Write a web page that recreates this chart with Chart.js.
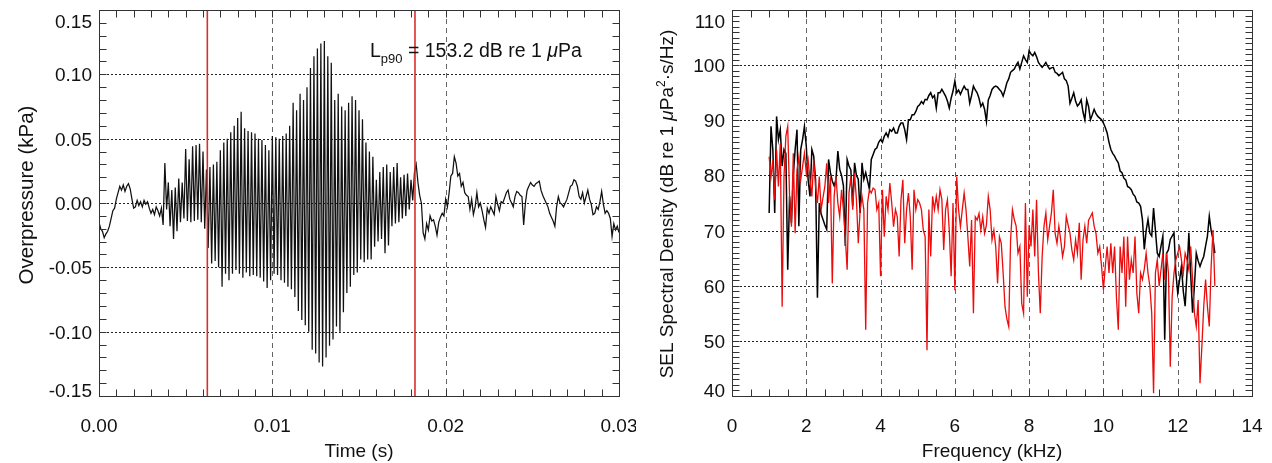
<!DOCTYPE html>
<html>
<head>
<meta charset="utf-8">
<title>Overpressure and SEL spectral density</title>
<script src="https://cdn.jsdelivr.net/npm/chart.js@4.4.0/dist/chart.umd.min.js"></script>
<style>
  html, body { margin: 0; padding: 0; background: #fff; }
  #wrap { position: relative; width: 1272px; height: 463px; }
  .panel { position: absolute; top: 0; width: 636px; height: 463px; }
  #left { left: 0; }
  #right { left: 636px; }
</style>
</head>
<body>
<div id="wrap">
  <div class="panel" id="left"><canvas id="chart-wave" width="636" height="463"></canvas></div>
  <div class="panel" id="right"><canvas id="chart-sel" width="636" height="463"></canvas></div>
</div>
<script>
/* global Chart */
(function() {
  "use strict";

  // ---- Left panel: overpressure (kPa), one sample every 0.1 ms, 0 .. 30 ms (one row = 1 ms)
  const SAMPLE_STEP_S = 0.0001;
  const overpressureKPa = [
    -0.015, -0.020, -0.022, -0.027, -0.024, -0.022, -0.018, -0.012, -0.006, -0.004,
    0.003, 0.008, 0.013, 0.010, 0.014, 0.009, 0.013, 0.015, 0.011, 0.003,
    -0.004, -0.003, 0.002, -0.002, 0.001, -0.003, 0.002, -0.001, 0.001, -0.004,
    -0.008, -0.005, -0.009, -0.003, -0.006, -0.010, -0.004, -0.017, 0.031, -0.005,
    0.016, -0.018, 0.010, -0.028, 0.012, -0.022, 0.019, -0.015, 0.016, -0.012,
    0.042, -0.014, 0.034, -0.015, 0.044, -0.014, 0.045, -0.013, 0.046, -0.015,
    0.040, -0.020, 0.026, -0.035, 0.028, -0.047, 0.030, -0.045, 0.032, -0.050,
    0.041, -0.065, 0.047, -0.055, 0.050, -0.060, 0.055, -0.055, 0.060, -0.052,
    0.066, -0.055, 0.071, -0.058, 0.058, -0.054, 0.056, -0.057, 0.055, -0.056,
    0.054, -0.057, 0.050, -0.058, 0.049, -0.061, 0.045, -0.066, 0.041, -0.060,
    0.052, -0.055, 0.051, -0.056, 0.050, -0.060, 0.052, -0.062, 0.054, -0.065,
    0.060, -0.067, 0.078, -0.073, 0.072, -0.084, 0.085, -0.091, 0.080, -0.095,
    0.090, -0.100, 0.105, -0.114, 0.114, -0.117, 0.120, -0.124, 0.124, -0.127,
    0.126, -0.120, 0.114, -0.111, 0.109, -0.106, 0.080, -0.096, 0.085, -0.100,
    0.075, -0.085, 0.072, -0.070, 0.078, -0.065, 0.083, -0.056, 0.080, -0.054,
    0.072, -0.044, 0.065, -0.046, 0.047, -0.044, 0.040, -0.044, 0.036, -0.034,
    0.018, -0.030, 0.024, -0.028, 0.028, -0.039, 0.030, -0.033, 0.024, -0.018,
    0.028, -0.016, 0.031, -0.015, 0.020, -0.012, 0.022, -0.010, 0.023, -0.005,
    0.018, 0.002, 0.024, 0.030, 0.016, 0.006, 0.000, -0.023, -0.028, -0.016,
    -0.021, -0.010, -0.014, -0.013, -0.018, -0.025, -0.015, -0.011, -0.008, -0.010,
    0.003, -0.003, 0.008, 0.021, 0.023, 0.036, 0.031, 0.021, 0.023, 0.013,
    0.016, 0.008, 0.006, 0.005, -0.005, 0.003, -0.009, -0.003, 0.008, -0.003,
    0.000, -0.006, -0.013, -0.019, -0.004, -0.008, -0.003, -0.006, -0.009, 0.005,
    -0.001, -0.006, 0.001, 0.000, 0.004, 0.008, 0.010, 0.003, 0.000, -0.003,
    0.005, 0.009, 0.008, 0.006, 0.005, -0.017, 0.000, 0.010, 0.013, 0.016,
    0.014, 0.013, 0.015, 0.016, 0.017, 0.010, 0.006, 0.003, 0.000, -0.003,
    -0.008, -0.011, -0.014, -0.018, -0.003, 0.005, 0.000, -0.001, -0.003, 0.000,
    0.003, 0.008, 0.013, 0.014, 0.018, 0.017, 0.013, 0.005, 0.003, 0.008,
    0.000, 0.005, 0.010, 0.003, -0.001, -0.009, -0.008, -0.003, -0.005, 0.001,
    0.009, -0.001, -0.008, -0.006, -0.008, -0.012, -0.026, -0.016, -0.021, -0.018,
    -0.023,
  ];
  // start and end of the 90 % energy window (s)
  const windowEdgesS = [0.00625, 0.01823];
  const timeTicks = [0, 0.01, 0.02, 0.03];
  const timeTickLabels = ["0.00", "0.01", "0.02", "0.03"];
  const pressureTicks = [-0.15, -0.10, -0.05, 0, 0.05, 0.10, 0.15];
  const pressureTickLabels = ["-0.15", "-0.10", "-0.05", "0.00", "0.05", "0.10", "0.15"];

  // ---- Right panel: SEL spectral density (dB), 1 .. 13 kHz every 0.05 kHz (one row = 1 kHz)
  const FREQ_START_KHZ = 1.0;
  const FREQ_STEP_KHZ = 0.05;
  const selSignal = [
    73.2, 88.9, 84.6, 73.2, 90.7, 86.5, 88.3, 81.7, 84.7, 84.0, 62.9, 76.2, 71.4, 80.0, 84.7, 88.3, 70.8, 84.7, 86.5, 88.9,
    85.3, 79.2, 76.2, 84.7, 83.5, 79.2, 57.8, 75.0, 73.0, 72.0, 71.0, 70.2, 82.9, 80.5, 79.0, 78.1, 79.3, 84.4, 81.1, 80.0,
    78.1, 67.2, 82.9, 81.7, 81.0, 74.4, 82.3, 80.0, 79.3, 73.2, 82.3, 79.3, 80.5, 79.0, 77.5, 82.9, 83.8, 84.7, 85.0, 86.0,
    86.5, 86.0, 87.1, 87.7, 87.0, 88.3, 88.0, 88.6, 87.7, 87.7, 88.9, 89.5, 89.5, 88.3, 86.5, 90.1, 90.1, 91.0, 91.0, 91.6,
    92.5, 92.8, 93.4, 93.0, 93.8, 93.7, 94.5, 95.0, 94.1, 94.5, 92.2, 95.0, 95.0, 95.6, 95.0, 94.4, 93.5, 92.2, 94.0, 95.3,
    97.1, 95.0, 95.5, 94.7, 95.5, 96.2, 95.6, 95.6, 93.1, 94.5, 96.2, 95.5, 95.0, 94.0, 92.5, 93.1, 92.0, 89.8, 93.7, 94.5,
    95.6, 96.0, 96.2, 96.0, 95.6, 95.2, 94.4, 95.5, 96.8, 97.5, 98.7, 99.0, 99.3, 100.0, 100.5, 99.3, 100.5, 101.7, 101.0, 100.5,
    102.6, 102.0, 101.7, 102.3, 101.5, 100.5, 100.0, 99.6, 100.0, 100.5, 99.8, 99.3, 99.5, 99.6, 98.7, 98.5, 98.1, 98.4, 98.7, 97.5,
    97.2, 96.2, 93.1, 94.0, 95.0, 93.5, 92.6, 93.0, 93.7, 91.5, 90.1, 93.7, 92.5, 90.1, 91.0, 92.0, 91.2, 90.7, 90.4, 90.1,
    89.5, 88.7, 87.7, 86.0, 84.7, 84.0, 83.5, 82.8, 82.3, 80.8, 80.5, 79.5, 79.2, 78.0, 77.8, 77.4, 76.6, 76.2, 75.2, 75.0,
    74.4, 72.0, 66.6, 70.0, 72.0, 69.5, 69.0, 74.1, 70.0, 65.9, 65.3, 67.2, 69.0, 50.2, 65.9, 66.5, 68.4, 69.0, 69.6, 62.3,
    58.7, 61.0, 63.5, 59.0, 56.3, 62.3, 69.6, 62.0, 55.1, 60.0, 65.9, 64.5, 63.5, 64.5, 65.3, 67.2, 69.0, 72.6, 70.0, 68.4,
    65.9,
  ];
  const selNoise = [
    83.4, 79.8, 82.8, 75.6, 84.6, 78.0, 85.8, 56.2, 79.8, 87.1, 88.9, 76.2, 70.7, 84.0, 69.5, 81.0, 83.4, 79.2, 81.6, 84.0,
    80.4, 82.8, 79.2, 76.2, 82.8, 78.0, 75.0, 79.8, 73.8, 76.0, 78.0, 82.2, 75.0, 79.8, 60.4, 76.2, 79.8, 75.0, 72.5, 77.4,
    73.8, 68.9, 62.9, 76.8, 79.8, 73.8, 80.4, 75.6, 67.7, 73.8, 76.2, 73.8, 52.0, 75.0, 77.4, 76.8, 77.7, 77.4, 73.8, 75.0,
    61.7, 77.4, 68.9, 76.2, 73.8, 78.6, 75.0, 70.7, 73.8, 72.5, 65.3, 75.6, 79.2, 67.7, 73.8, 76.8, 72.5, 62.9, 77.4, 73.8,
    75.6, 75.0, 73.8, 70.1, 68.9, 48.3, 73.8, 65.3, 76.2, 73.8, 76.2, 73.8, 77.4, 75.6, 66.5, 73.8, 75.6, 70.0, 61.7, 75.0,
    59.2, 79.8, 73.8, 70.7, 73.8, 76.8, 73.8, 68.9, 63.5, 71.9, 55.0, 72.5, 71.9, 73.1, 70.1, 72.5, 69.5, 71.0, 76.2, 73.8,
    68.3, 70.1, 67.1, 60.4, 68.9, 67.7, 62.3, 56.2, 54.0, 52.6, 68.3, 73.8, 72.0, 70.8, 65.9, 67.1, 56.8, 55.0, 75.0, 58.0,
    71.0, 67.1, 73.8, 65.3, 75.6, 62.3, 55.0, 65.3, 70.8, 73.2, 68.3, 70.8, 73.2, 77.4, 69.5, 67.7, 70.8, 68.3, 65.3, 67.1,
    72.6, 71.0, 69.5, 66.5, 64.7, 68.3, 65.9, 71.4, 61.1, 68.3, 70.8, 67.7, 71.9, 72.5, 73.2, 70.8, 69.5, 65.9, 67.1, 63.5,
    59.3, 63.5, 67.1, 62.3, 67.7, 62.3, 67.1, 58.0, 52.0, 67.1, 62.3, 68.9, 56.2, 68.9, 61.1, 64.7, 62.3, 68.9, 58.6, 55.0,
    62.3, 61.1, 63.0, 65.9, 62.3, 59.9, 55.0, 40.5, 62.3, 64.7, 59.9, 62.9, 65.9, 61.1, 65.9, 62.3, 45.3, 58.0, 62.3, 64.7,
    65.9, 67.1, 64.7, 62.3, 65.9, 64.7, 62.9, 67.1, 61.1, 55.0, 52.6, 57.4, 42.3, 49.0, 56.2, 61.1, 56.2, 52.6, 63.5, 70.1,
    59.9,
  ];
  const freqTicks = [0, 2, 4, 6, 8, 10, 12, 14];
  const freqTickLabels = ["0", "2", "4", "6", "8", "10", "12", "14"];
  const selTicks = [40, 50, 60, 70, 80, 90, 100, 110];
  const selTickLabels = ["40", "50", "60", "70", "80", "90", "100", "110"];

  const FONT = "'Liberation Sans', Arial, Helvetica, sans-serif";
  const BASE = 19;
  const font = (size, italic) => `${italic ? "italic " : ""}${size}px ${FONT}`;
  const snap = (v) => Math.round(v) + 0.5;

  /**
   * Width of a list of text runs ({text, size, italic, dy}).
   * @return {number}
   */
  function runsWidth(ctx, runs) {
    return runs.reduce((w, r) => {
      ctx.font = font(r.size || BASE, r.italic);
      return w + ctx.measureText(r.text).width;
    }, 0);
  }

  function drawRuns(ctx, runs, x, y) {
    let cx = x;
    runs.forEach((r) => {
      ctx.font = font(r.size || BASE, r.italic);
      ctx.fillText(r.text, cx, y + (r.dy || 0));
      cx += ctx.measureText(r.text).width;
    });
  }

  // IDL-like frame: dashed grid, inward ticks on all sides, clamped labels
  const idlAxes = {
    id: "idlAxes",
    beforeDatasetsDraw(chart, args, o) {
      const {ctx, chartArea: a, scales: {x, y}} = chart;
      ctx.save();
      ctx.lineWidth = 1;
      ctx.strokeStyle = "#666";
      ctx.setLineDash([5, 4]);
      ctx.beginPath();
      o.xTicks.slice(1, -1).forEach((v) => {
        const px = snap(x.getPixelForValue(v));
        ctx.moveTo(px, a.top);
        ctx.lineTo(px, a.bottom);
      });
      ctx.stroke();
      ctx.strokeStyle = "#222";
      ctx.setLineDash([2, 2]);
      ctx.beginPath();
      o.yTicks.slice(1, -1).forEach((v) => {
        const py = snap(y.getPixelForValue(v));
        ctx.moveTo(a.left, py);
        ctx.lineTo(a.right, py);
      });
      ctx.stroke();
      ctx.restore();
    },
    afterDatasetsDraw(chart, args, o) {
      const {ctx, chartArea: a, scales: {x, y}} = chart;
      ctx.save();
      ctx.setLineDash([]);
      ctx.lineWidth = 1;
      ctx.strokeStyle = "#333";
      const L = Math.round(a.left) + 0.5;
      const R = Math.round(a.right) + 0.5;
      const T = Math.round(a.top) + 0.5;
      const B = Math.round(a.bottom) + 0.5;
      ctx.strokeRect(L, T, R - L, B - T);

      const tl = o.tickLen;
      ctx.beginPath();
      const nx = Math.round((x.max - x.min) / o.xMinor);
      for (let i = 0; i <= nx; i++) {
        const px = snap(x.getPixelForValue(x.min + i * o.xMinor));
        ctx.moveTo(px, B);
        ctx.lineTo(px, B - tl);
        ctx.moveTo(px, T);
        ctx.lineTo(px, T + tl);
      }
      const ny = Math.round((y.max - y.min) / o.yMinor);
      for (let i = 0; i <= ny; i++) {
        const py = snap(y.getPixelForValue(y.min + i * o.yMinor));
        ctx.moveTo(L, py);
        ctx.lineTo(L + tl, py);
        ctx.moveTo(R, py);
        ctx.lineTo(R - tl, py);
      }
      ctx.stroke();

      ctx.fillStyle = "#111";
      ctx.font = font(BASE);
      ctx.textBaseline = "alphabetic";
      ctx.textAlign = "center";
      o.xTicks.forEach((v, i) => {
        ctx.fillText(o.xLabels[i], x.getPixelForValue(v), a.bottom + 36);
      });
      ctx.textAlign = "right";
      o.yTicks.forEach((v, i) => {
        const base = Math.min(Math.max(y.getPixelForValue(v) + 7, a.top + 17.5), a.bottom + 1);
        ctx.fillText(o.yLabels[i], a.left - 7, base);
      });

      ctx.textAlign = "left";
      const xw = runsWidth(ctx, o.xTitle);
      drawRuns(ctx, o.xTitle, (a.left + a.right) / 2 - xw / 2, a.bottom + 61);

      const yw = runsWidth(ctx, o.yTitle);
      ctx.save();
      ctx.translate(o.yTitleX, o.yTitleY);
      ctx.rotate(-Math.PI / 2);
      drawRuns(ctx, o.yTitle, -yw / 2, 0);
      ctx.restore();

      (o.notes || []).forEach((n) => drawRuns(ctx, n.runs, n.x, n.y));
      ctx.restore();
    },
  };

  /**
   * Shared option block for both panels.
   * @return {Object}
   */
  function panelOptions(xTicks, yTicks, yAxisWidth, rightPad, axes) {
    return {
      responsive: false,
      animation: false,
      devicePixelRatio: 1,
      layout: {padding: {top: 10, right: rightPad, left: 0, bottom: 0}},
      elements: {point: {radius: 0}, line: {tension: 0}},
      scales: {
        x: {
          type: "linear",
          min: xTicks[0],
          max: xTicks[xTicks.length - 1],
          grid: {display: false},
          border: {display: false},
          ticks: {display: false},
          afterFit: (s) => {
            s.height = 67;
          },
        },
        y: {
          type: "linear",
          min: yTicks[0],
          max: yTicks[yTicks.length - 1],
          grid: {display: false},
          border: {display: false},
          ticks: {display: false},
          afterFit: (s) => {
            s.width = yAxisWidth;
          },
        },
      },
      plugins: {
        legend: {display: false},
        tooltip: {enabled: false},
        idlAxes: axes,
      },
    };
  }

  const pMin = pressureTicks[0];
  const pMax = pressureTicks[pressureTicks.length - 1];

  new Chart(document.getElementById("chart-wave"), {
    type: "line",
    data: {
      datasets: [
        ...windowEdgesS.map((t) => ({
          data: [{x: t, y: pMin}, {x: t, y: pMax}],
          borderColor: "rgb(218, 45, 45)",
          borderWidth: 1.6,
          order: 0,
        })),
        {
          data: overpressureKPa.map((p, i) => ({x: i * SAMPLE_STEP_S, y: p})),
          borderColor: "#111",
          borderWidth: 1.25,
          order: 1,
        },
      ],
    },
    options: panelOptions(timeTicks, pressureTicks, 99, 17, {
      xTicks: timeTicks, xLabels: timeTickLabels, xMinor: 0.001,
      yTicks: pressureTicks, yLabels: pressureTickLabels, yMinor: 0.01,
      tickLen: 7,
      xTitle: [{text: "Time (s)"}],
      yTitle: [{text: "Overpressure (kPa)", size: 20.5}],
      yTitleX: 33,
      yTitleY: 195,
      notes: [{
        x: 370, y: 57,
        runs: [
          {text: "L", size: 19.5},
          {text: "p90", size: 13, dy: 6},
          {text: " = 153.2 dB re 1 ", size: 19.5},
          {text: "\u03bc", size: 19.5, italic: true},
          {text: "Pa", size: 19.5},
        ],
      }],
    }),
    plugins: [idlAxes],
  });

  const freqAt = (i) => FREQ_START_KHZ + i * FREQ_STEP_KHZ;

  new Chart(document.getElementById("chart-sel"), {
    type: "line",
    data: {
      datasets: [
        {
          data: selNoise.map((v, i) => ({x: freqAt(i), y: v})),
          borderColor: "rgb(236, 12, 12)",
          borderWidth: 1.3,
          order: 0,
        },
        {
          data: selSignal.map((v, i) => ({x: freqAt(i), y: v})),
          borderColor: "#000",
          borderWidth: 1.5,
          order: 1,
        },
      ],
    },
    options: panelOptions(freqTicks, selTicks, 96, 20, {
      xTicks: freqTicks, xLabels: freqTickLabels, xMinor: 0.5,
      yTicks: selTicks, yLabels: selTickLabels, yMinor: 1,
      tickLen: 7,
      xTitle: [{text: "Frequency (kHz)"}],
      yTitle: [
        {text: "SEL Spectral Density (dB re 1 "},
        {text: "\u03bc", italic: true},
        {text: "Pa"},
        {text: "2", size: 12, dy: -8},
        {text: "\u00b7s/Hz)"},
      ],
      yTitleX: 37,
      yTitleY: 204,
    }),
    plugins: [idlAxes],
  });
})();
</script>
</body>
</html>
